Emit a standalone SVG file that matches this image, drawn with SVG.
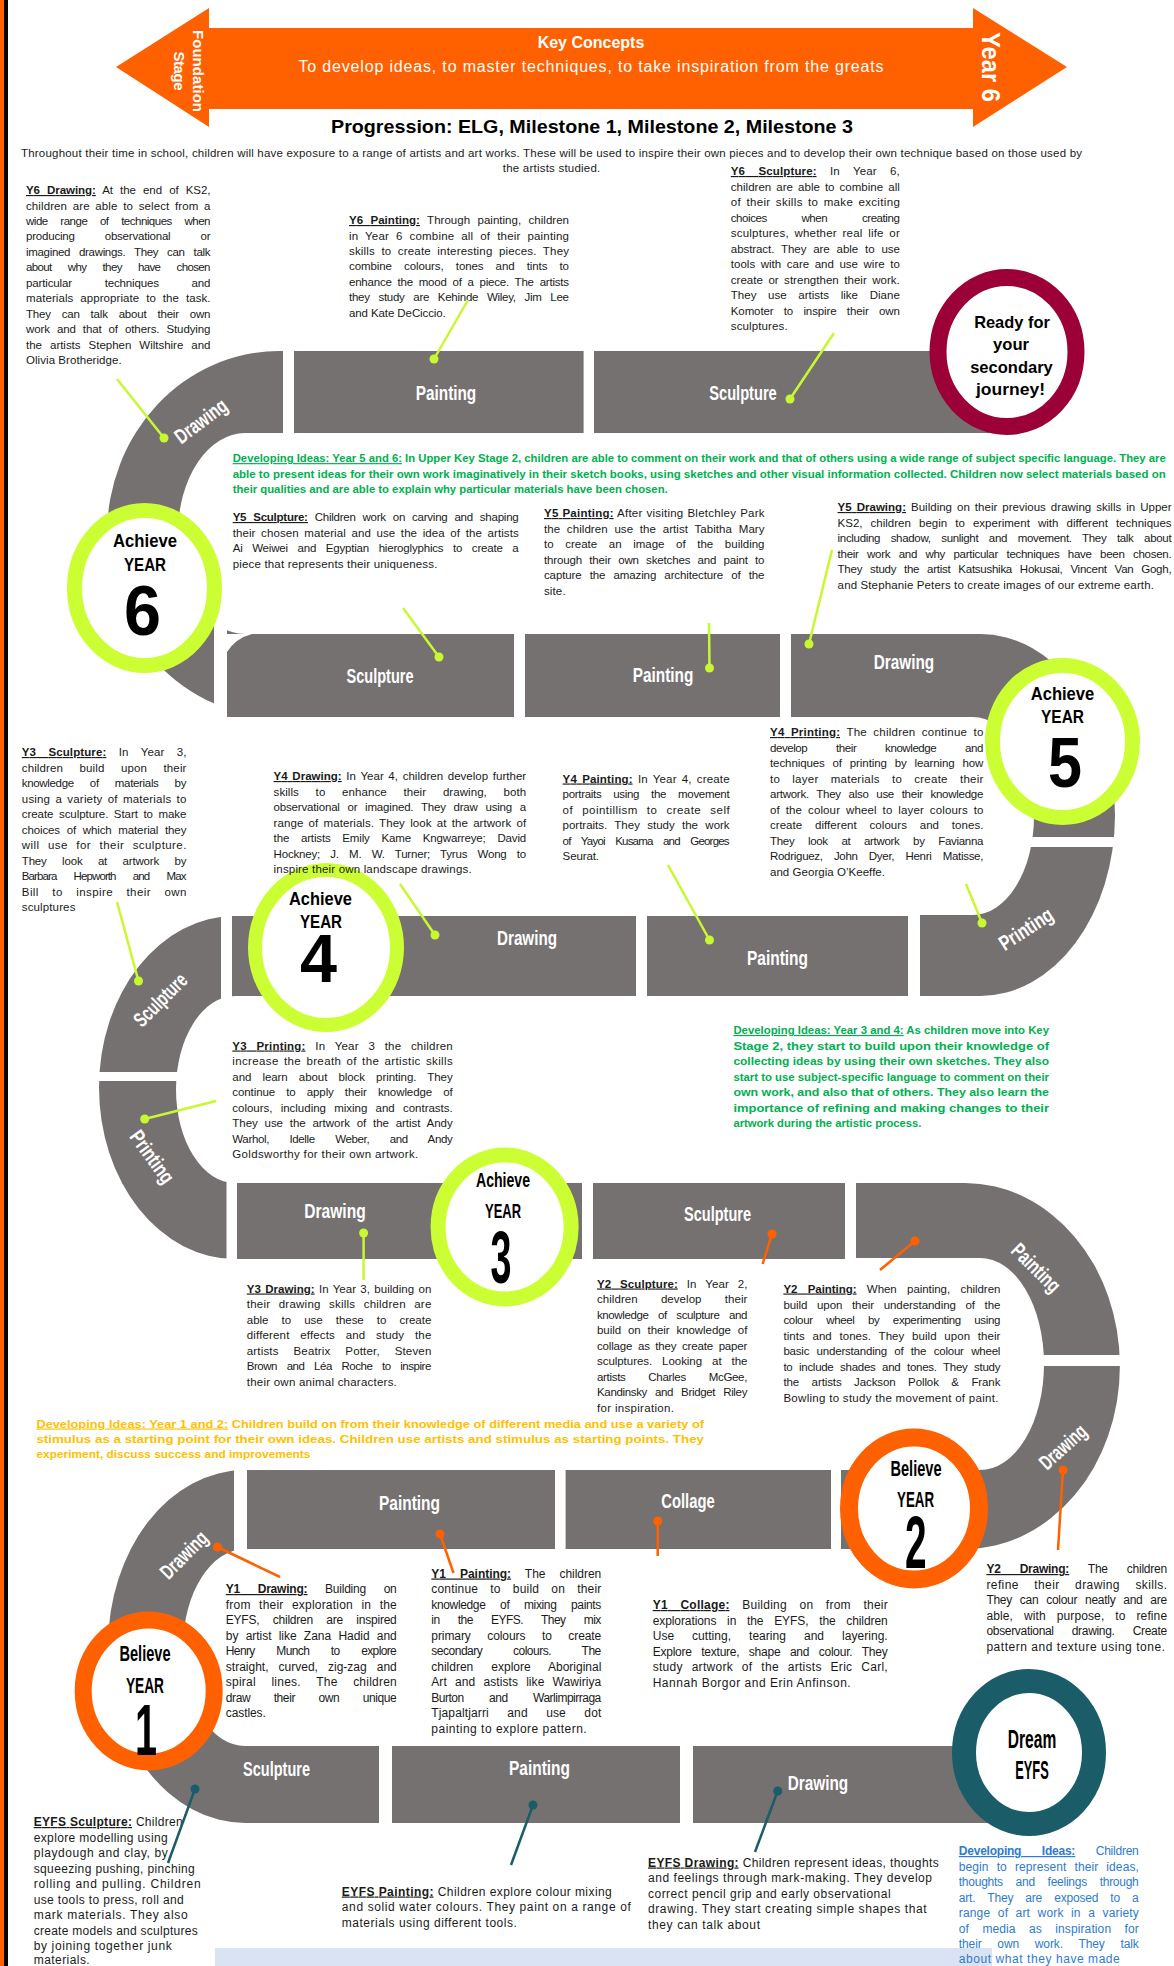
<svg xmlns="http://www.w3.org/2000/svg" width="1174" height="1966" viewBox="0 0 1174 1966">
<style>
text{font-family:"Liberation Sans",Arial,sans-serif}
.t{font-size:11.5px;fill:#1a1a1a}
.s{font-size:12px;fill:#1a1a1a}
.h{font-weight:bold;text-decoration:underline}
.u{text-decoration:underline}
.g{font-size:11.5px;font-weight:bold;fill:#00B050}
.y{font-size:11.5px;font-weight:bold;fill:#FFC000}
.bl{font-size:12px;fill:#2E7BCF}
.road{fill:#767171}
.gap{fill:#fff}
.lbl{font-size:21px;font-weight:bold;fill:#fff;text-anchor:middle}
.cb{font-weight:bold;fill:#000;text-anchor:middle}
.lime{stroke:#C8F830;stroke-width:2.5;fill:none}
.org{stroke:#FF6000;stroke-width:2.5;fill:none}
.teal{stroke:#1A5C68;stroke-width:2.5;fill:none}
.dl{fill:#C8F830}.do{fill:#FF6000}.dt{fill:#1A5C68}
</style>
<rect width="1174" height="1966" fill="#fff"/>
<g id="page-edge">
<rect x="0" y="0" width="4" height="1966" fill="#FF6000"/>
<rect x="4" y="0" width="4" height="1966" fill="#000"/>
</g>

<g id="banner">
<polygon points="116,67 209,8 209,28 973,28 973,8 1067,67 973,127 973,109 209,109 209,127" fill="#FF6000"/>
<text x="591" y="48" font-size="16" font-weight="bold" fill="#fff" text-anchor="middle">Key Concepts</text>
<text x="591" y="72" font-size="16" fill="#fff" text-anchor="middle" textLength="585">To develop ideas, to master techniques, to take inspiration from the greats</text>
<text transform="translate(193,71) rotate(90)" font-size="15" font-weight="bold" fill="#fff" text-anchor="middle" textLength="82">Foundation</text>
<text transform="translate(174,71) rotate(90)" font-size="15" font-weight="bold" fill="#fff" text-anchor="middle" textLength="39">Stage</text>
<text transform="translate(982,67) rotate(90)" font-size="26" font-weight="bold" fill="#fff" text-anchor="middle" textLength="70" lengthAdjust="spacingAndGlyphs">Year 6</text>
</g>

<g id="title">
<text x="592" y="133" font-size="19" font-weight="bold" fill="#000" text-anchor="middle" textLength="522" lengthAdjust="spacingAndGlyphs">Progression: ELG, Milestone 1, Milestone 2, Milestone 3</text>
</g>
<g id="intro">
<text class="t" x="551.5" y="157" text-anchor="middle" textLength="1061">Throughout their time in school, children will have exposure to a range of artists and art works. These will be used to inspire their own pieces and to develop their own technique based on those used by</text>
<text class="t" x="551.5" y="172" text-anchor="middle" textLength="97.5">the artists studied.</text>
</g>

<g id="road">
<path class="road" d="M300,351 L279,351 A172,183 0 0 0 279,717 L300,717 L300,634 L245,634 A67,100.5 0 0 1 245,433 L300,433 Z"/>
<path class="road" d="M791,634 L980,634 A135,181 0 0 1 980,996 L920,996 L920,915 L973,915 A61,99 0 0 0 973,717 L791,717 Z"/>
<path class="road" d="M245,916 L235,916 A136,171.5 0 0 0 235,1259 L245,1259 L245,1183 L235,1183 A59,93.5 0 0 1 235,996 L245,996 Z"/>
<path class="road" d="M856,1183 L965,1183 A155,183 0 0 1 965,1549 L841,1549 L841,1470 L980,1470 A64,106 0 0 0 980,1258 L856,1258 Z"/>
<path class="road" d="M250,1470 L245,1470 A137,176.5 0 0 0 245,1823 L379,1823 L379,1746 L245,1746 A62,98.5 0 0 1 245,1549 L250,1549 Z"/>
<rect class="gap" x="283" y="345" width="11" height="95"/>
<rect class="gap" x="214" y="600" width="13" height="122"/>
<rect class="gap" x="1020" y="837" width="105" height="10"/>
<rect class="gap" x="221" y="910" width="11" height="90"/>
<rect class="gap" x="90" y="1072" width="100" height="9"/>
<rect class="gap" x="226.5" y="1178" width="10.5" height="87"/>
<rect class="gap" x="1030" y="1355" width="100" height="11"/>
<rect class="gap" x="234" y="1465" width="13" height="90"/>
</g>
<g id="seg-y6-painting"><rect class="road" x="294" y="351" width="289.6" height="82"/><text class="lbl" x="446" y="400" textLength="60.5" lengthAdjust="spacingAndGlyphs">Painting</text></g>
<g id="seg-y6-sculpture"><rect class="road" x="594" y="351" width="406" height="82"/><text class="lbl" x="743" y="400" textLength="67.5" lengthAdjust="spacingAndGlyphs">Sculpture</text></g>
<g id="seg-y6-drawing"><text class="lbl" transform="translate(201,421) rotate(-37)" x="0" y="7" textLength="60" lengthAdjust="spacingAndGlyphs">Drawing</text></g>
<g id="seg-y5-sculpture"><rect class="road" x="227" y="634" width="287" height="83"/><path class="gap" d="M227,634 L252,634 Q236,638 227,652 Z"/><text class="lbl" x="380" y="683" textLength="67" lengthAdjust="spacingAndGlyphs">Sculpture</text></g>
<g id="seg-y5-painting"><rect class="road" x="525" y="634" width="255" height="83"/><text class="lbl" x="663" y="682" textLength="60.6" lengthAdjust="spacingAndGlyphs">Painting</text></g>
<g id="seg-y5-drawing"><text class="lbl" x="904" y="669" textLength="60.4" lengthAdjust="spacingAndGlyphs">Drawing</text></g>
<g id="seg-y4-printing"><text class="lbl" transform="translate(1026,929) rotate(-33)" x="0" y="7" textLength="60" lengthAdjust="spacingAndGlyphs">Printing</text></g>
<g id="seg-y4-painting"><rect class="road" x="647" y="916" width="261" height="80"/><text class="lbl" x="777.5" y="965" textLength="61" lengthAdjust="spacingAndGlyphs">Painting</text></g>
<g id="seg-y4-drawing"><rect class="road" x="232" y="916" width="404" height="80"/><text class="lbl" x="527" y="945" textLength="60" lengthAdjust="spacingAndGlyphs">Drawing</text></g>
<g id="seg-y3-sculpture"><text class="lbl" transform="translate(160.5,1000) rotate(-45)" x="0" y="7" textLength="66" lengthAdjust="spacingAndGlyphs">Sculpture</text></g>
<g id="seg-y3-printing"><text class="lbl" transform="translate(152,1157) rotate(54)" x="0" y="7" textLength="60" lengthAdjust="spacingAndGlyphs">Printing</text></g>
<g id="seg-y3-drawing"><rect class="road" x="237" y="1183" width="345" height="76"/><text class="lbl" x="335" y="1218" textLength="61.5" lengthAdjust="spacingAndGlyphs">Drawing</text></g>
<g id="seg-y2-sculpture"><rect class="road" x="593" y="1183" width="252" height="76"/><text class="lbl" x="717.5" y="1221" textLength="67" lengthAdjust="spacingAndGlyphs">Sculpture</text></g>
<g id="seg-y2-painting"><text class="lbl" transform="translate(1036,1268) rotate(45)" x="0" y="7" textLength="60" lengthAdjust="spacingAndGlyphs">Painting</text></g>
<g id="seg-y2-drawing"><text class="lbl" transform="translate(1063,1447) rotate(-42)" x="0" y="7" textLength="56" lengthAdjust="spacingAndGlyphs">Drawing</text></g>
<g id="seg-y1-collage"><rect class="road" x="565.6" y="1470" width="265.4" height="79"/><text class="lbl" x="688" y="1508" textLength="53.5" lengthAdjust="spacingAndGlyphs">Collage</text></g>
<g id="seg-y1-painting"><rect class="road" x="247" y="1470" width="308" height="79"/><text class="lbl" x="409.5" y="1510" textLength="61" lengthAdjust="spacingAndGlyphs">Painting</text></g>
<g id="seg-y1-drawing"><text class="lbl" transform="translate(184,1555) rotate(-45)" x="0" y="7" textLength="58" lengthAdjust="spacingAndGlyphs">Drawing</text></g>
<g id="seg-eyfs-sculpture"><text class="lbl" x="276.5" y="1776" textLength="67" lengthAdjust="spacingAndGlyphs">Sculpture</text></g>
<g id="seg-eyfs-painting"><rect class="road" x="392" y="1746" width="288" height="77"/><text class="lbl" x="539.5" y="1775" textLength="61" lengthAdjust="spacingAndGlyphs">Painting</text></g>
<g id="seg-eyfs-drawing"><rect class="road" x="693" y="1746" width="307" height="77"/><text class="lbl" x="818" y="1790" textLength="60.4" lengthAdjust="spacingAndGlyphs">Drawing</text></g>

<g id="badge-ready"><ellipse cx="1007" cy="352" rx="69" ry="74.5" fill="#fff" stroke="#9B0036" stroke-width="17"/>
<text class="cb" font-size="17" x="1012" y="328" textLength="75.7" lengthAdjust="spacingAndGlyphs">Ready for</text>
<text class="cb" font-size="17" x="1011" y="350" textLength="36" lengthAdjust="spacingAndGlyphs">your</text>
<text class="cb" font-size="17" x="1011.5" y="373" textLength="82.6" lengthAdjust="spacingAndGlyphs">secondary</text>
<text class="cb" font-size="17" x="1010.5" y="395" textLength="69" lengthAdjust="spacingAndGlyphs">journey!</text></g>
<g id="badge-achieve-6"><ellipse cx="144.5" cy="588" rx="70" ry="77.5" fill="#fff" stroke="#CCFF33" stroke-width="15"/>
<text class="cb" font-size="18" x="145" y="547" textLength="64" lengthAdjust="spacingAndGlyphs">Achieve</text>
<text class="cb" font-size="18" x="145" y="571" textLength="42" lengthAdjust="spacingAndGlyphs">YEAR</text>
<text class="cb" font-size="70" x="142.5" y="635" textLength="37" lengthAdjust="spacingAndGlyphs">6</text></g>
<g id="badge-achieve-5"><ellipse cx="1062.5" cy="741.5" rx="70" ry="76" fill="#fff" stroke="#CCFF33" stroke-width="15"/>
<text class="cb" font-size="18" x="1062.5" y="700" textLength="63.6" lengthAdjust="spacingAndGlyphs">Achieve</text>
<text class="cb" font-size="18" x="1062.5" y="723" textLength="43" lengthAdjust="spacingAndGlyphs">YEAR</text>
<text class="cb" font-size="70" x="1065" y="787" textLength="34" lengthAdjust="spacingAndGlyphs">5</text></g>
<g id="badge-achieve-4"><ellipse cx="326" cy="947.5" rx="71" ry="77.5" fill="#fff" stroke="#CCFF33" stroke-width="14"/>
<text class="cb" font-size="18" x="320.5" y="905" textLength="63" lengthAdjust="spacingAndGlyphs">Achieve</text>
<text class="cb" font-size="18" x="321" y="928" textLength="42" lengthAdjust="spacingAndGlyphs">YEAR</text>
<text class="cb" font-size="68" x="318.5" y="982" textLength="37" lengthAdjust="spacingAndGlyphs">4</text></g>
<g id="badge-achieve-3"><ellipse cx="504.6" cy="1227" rx="66.5" ry="72" fill="#fff" stroke="#CCFF33" stroke-width="15"/>
<text class="cb" font-size="21" x="503" y="1187" textLength="54" lengthAdjust="spacingAndGlyphs">Achieve</text>
<text class="cb" font-size="21" x="503" y="1218" textLength="36" lengthAdjust="spacingAndGlyphs">YEAR</text>
<text class="cb" font-size="74" x="501" y="1283" textLength="21" lengthAdjust="spacingAndGlyphs">3</text></g>
<g id="badge-believe-2"><ellipse cx="914" cy="1508.5" rx="65" ry="71" fill="#fff" stroke="#FF6000" stroke-width="18"/>
<text class="cb" font-size="22" x="916" y="1476" textLength="51" lengthAdjust="spacingAndGlyphs">Believe</text>
<text class="cb" font-size="22" x="915.5" y="1507" textLength="37" lengthAdjust="spacingAndGlyphs">YEAR</text>
<text class="cb" font-size="74" x="915.8" y="1568" textLength="21.6" lengthAdjust="spacingAndGlyphs">2</text></g>
<g id="badge-believe-1"><ellipse cx="148.7" cy="1691" rx="65.5" ry="71" fill="#fff" stroke="#FF6000" stroke-width="17"/>
<text class="cb" font-size="22" x="145" y="1660.7" textLength="51" lengthAdjust="spacingAndGlyphs">Believe</text>
<text class="cb" font-size="22" x="145" y="1692.7" textLength="38" lengthAdjust="spacingAndGlyphs">YEAR</text>
<text class="cb" font-size="72" x="146" y="1755" textLength="22" lengthAdjust="spacingAndGlyphs">1</text></g>
<g id="badge-dream"><ellipse cx="1029" cy="1752.5" rx="65" ry="71.5" fill="#fff" stroke="#1A5C68" stroke-width="24"/>
<text class="cb" font-size="25" x="1032" y="1748" textLength="48.5" lengthAdjust="spacingAndGlyphs">Dream</text>
<text class="cb" font-size="25" x="1032" y="1779" textLength="33.4" lengthAdjust="spacingAndGlyphs">EYFS</text></g>

<g id="footer-band"><rect x="215" y="1948" width="777" height="18" fill="#DAE3F3"/></g>

<g id="y6-drawing">
<text class="t" x="26" y="194" textLength="184.5" word-spacing="4"><tspan class="h">Y6 Drawing:</tspan> At the end of KS2,</text>
<text class="t" x="26" y="209.5" textLength="184.5" word-spacing="2.4">children are able to select from a</text>
<text class="t" x="26" y="225" textLength="184.5" word-spacing="9.9">wide range of techniques when</text>
<text class="t" x="26" y="240.4" textLength="184.5" word-spacing="27">producing observational or</text>
<text class="t" x="26" y="255.8" textLength="184.5" word-spacing="6">imagined drawings. They can talk</text>
<text class="t" x="26" y="271.3" textLength="184.5" word-spacing="13.6">about why they have chosen</text>
<text class="t" x="26" y="286.7" textLength="184.5" word-spacing="29.7">particular techniques and</text>
<text class="t" x="26" y="302.2" textLength="184.5" word-spacing="3.6">materials appropriate to the task.</text>
<text class="t" x="26" y="317.6" textLength="184.5" word-spacing="7.9">They can talk about their own</text>
<text class="t" x="26" y="333" textLength="184.5" word-spacing="3.9">work and that of others. Studying</text>
<text class="t" x="26" y="348.5" textLength="184.5" word-spacing="4.9">the artists Stephen Wiltshire and</text>
<text class="t" x="26" y="364" textLength="95.7">Olivia Brotheridge.</text>
</g>
<g id="y6-painting">
<text class="t" x="349" y="224" textLength="220" word-spacing="4.2"><tspan class="h">Y6 Painting:</tspan> Through painting, children</text>
<text class="t" x="349" y="239.5" textLength="220" word-spacing="3.6">in Year 6 combine all of their painting</text>
<text class="t" x="349" y="255" textLength="220" word-spacing="3">skills to create interesting pieces. They</text>
<text class="t" x="349" y="270.4" textLength="220" word-spacing="9">combine colours, tones and tints to</text>
<text class="t" x="349" y="285.8" textLength="220" word-spacing="2.9">enhance the mood of a piece. The artists</text>
<text class="t" x="349" y="301.3" textLength="220" word-spacing="5.8">they study are Kehinde Wiley, Jim Lee</text>
<text class="t" x="349" y="316.7" textLength="96.8">and Kate DeCiccio.</text>
</g>
<g id="y6-sculpture">
<text class="t" x="730.8" y="175" textLength="169" word-spacing="10"><tspan class="h">Y6 Sculpture:</tspan> In Year 6,</text>
<text class="t" x="730.8" y="190.5" textLength="169" word-spacing="1.8">children are able to combine all</text>
<text class="t" x="730.8" y="206" textLength="169" word-spacing="1.8">of their skills to make exciting</text>
<text class="t" x="730.8" y="221.5" textLength="169" word-spacing="32">choices when creating</text>
<text class="t" x="730.8" y="237" textLength="169" word-spacing="2.2">sculptures, whether real life or</text>
<text class="t" x="730.8" y="252.5" textLength="169" word-spacing="3.8">abstract. They are able to use</text>
<text class="t" x="730.8" y="268" textLength="169" word-spacing="2.3">tools with care and use wire to</text>
<text class="t" x="730.8" y="283.5" textLength="169" word-spacing="2.2">create or strengthen their work.</text>
<text class="t" x="730.8" y="299" textLength="169" word-spacing="8.5">They use artists like Diane</text>
<text class="t" x="730.8" y="314.5" textLength="169" word-spacing="7.2">Komoter to inspire their own</text>
<text class="t" x="730.8" y="330" textLength="56.8">sculptures.</text>
</g>
<g id="ideas-y5-y6">
<text class="g" transform="translate(232.7,462) scale(1,1.21)" x="0" y="0" font-size="9.5" style="font-size:9.5px" textLength="933" lengthAdjust="spacingAndGlyphs"><tspan class="u">Developing Ideas: Year 5 and 6:</tspan> In Upper Key Stage 2, children are able to comment on their work and that of others using a wide range of subject specific language. They are</text>
<text class="g" transform="translate(232.7,477.5) scale(1,1.21)" x="0" y="0" style="font-size:9.5px" textLength="933" lengthAdjust="spacingAndGlyphs">able to present ideas for their own work imaginatively in their sketch books, using sketches and other visual information collected. Children now select materials based on</text>
<text class="g" x="232.7" y="493" textLength="435" lengthAdjust="spacingAndGlyphs">their qualities and are able to explain why particular materials have been chosen.</text>
</g>
<g id="y5-sculpture">
<text class="t" x="232.7" y="521" textLength="286" word-spacing="4"><tspan class="h">Y5 Sculpture:</tspan> Children work on carving and shaping</text>
<text class="t" x="232.7" y="536.5" textLength="286" word-spacing="2.3">their chosen material and use the idea of the artists</text>
<text class="t" x="232.7" y="552" textLength="286" word-spacing="6.6">Ai Weiwei and Egyptian hieroglyphics to create a</text>
<text class="t" x="232.7" y="567.5" textLength="204.7">piece that represents their uniqueness.</text>
</g>
<g id="y5-painting">
<text class="t" x="544" y="517" textLength="220.5" word-spacing="0.5"><tspan class="h">Y5 Painting:</tspan> After visiting Bletchley Park</text>
<text class="t" x="544" y="532.5" textLength="220.5" word-spacing="3.4">the children use the artist Tabitha Mary</text>
<text class="t" x="544" y="548" textLength="220.5" word-spacing="8.4">to create an image of the building</text>
<text class="t" x="544" y="563.5" textLength="220.5" word-spacing="4.2">through their own sketches and paint to</text>
<text class="t" x="544" y="579" textLength="220.5" word-spacing="5.1">capture the amazing architecture of the</text>
<text class="t" x="544" y="594.5" textLength="21.6">site.</text>
</g>
<g id="y5-drawing">
<text class="t" x="837.6" y="511" textLength="334" word-spacing="1.8"><tspan class="h">Y5 Drawing:</tspan> Building on their previous drawing skills in Upper</text>
<text class="t" x="837.6" y="526.5" textLength="334" word-spacing="4.9">KS2, children begin to experiment with different techniques</text>
<text class="t" x="837.6" y="542" textLength="334" word-spacing="7.7">including shadow, sunlight and movement. They talk about</text>
<text class="t" x="837.6" y="557.5" textLength="334" word-spacing="5.5">their work and why particular techniques have been chosen.</text>
<text class="t" x="837.6" y="573" textLength="334" word-spacing="4.9">They study the artist Katsushika Hokusai, Vincent Van Gogh,</text>
<text class="t" x="837.6" y="588.5" textLength="316.3">and Stephanie Peters to create images of our extreme earth.</text>
</g>
<g id="y4-printing">
<text class="t" x="770" y="736" textLength="213.4" word-spacing="3"><tspan class="h">Y4 Printing:</tspan> The children continue to</text>
<text class="t" x="770" y="751.5" textLength="213.4" word-spacing="26">develop their knowledge and</text>
<text class="t" x="770" y="767" textLength="213.4" word-spacing="4.7">techniques of printing by learning how</text>
<text class="t" x="770" y="782.5" textLength="213.4" word-spacing="8.7">to layer materials to create their</text>
<text class="t" x="770" y="798" textLength="213.4" word-spacing="4.7">artwork. They also use their knowledge</text>
<text class="t" x="770" y="813.5" textLength="213.4" word-spacing="2.6">of the colour wheel to layer colours to</text>
<text class="t" x="770" y="829" textLength="213.4" word-spacing="9.6">create different colours and tones.</text>
<text class="t" x="770" y="844.5" textLength="213.4" word-spacing="10.7">They look at artwork by Favianna</text>
<text class="t" x="770" y="860" textLength="213.4" word-spacing="8.3">Rodriguez, John Dyer, Henri Matisse,</text>
<text class="t" x="770" y="875.5" textLength="115">and Georgia O’Keeffe.</text>
</g>
<g id="y3-sculpture">
<text class="t" x="21.8" y="756" textLength="164.6" word-spacing="9"><tspan class="h">Y3 Sculpture:</tspan> In Year 3,</text>
<text class="t" x="21.8" y="771.5" textLength="164.6" word-spacing="13.2">children build upon their</text>
<text class="t" x="21.8" y="787" textLength="164.6" word-spacing="13.2">knowledge of materials by</text>
<text class="t" x="21.8" y="802.5" textLength="164.6" word-spacing="1.9">using a variety of materials to</text>
<text class="t" x="21.8" y="818" textLength="164.6" word-spacing="2.4">create sculpture. Start to make</text>
<text class="t" x="21.8" y="833.5" textLength="164.6" word-spacing="3.6">choices of which material they</text>
<text class="t" x="21.8" y="849" textLength="164.6" word-spacing="4.9">will use for their sculpture.</text>
<text class="t" x="21.8" y="864.5" textLength="164.6" word-spacing="12.4">They look at artwork by</text>
<text class="t" x="21.8" y="880" textLength="164.6" word-spacing="14.9">Barbara Hepworth and Max</text>
<text class="t" x="21.8" y="895.5" textLength="164.6" word-spacing="9.9">Bill to inspire their own</text>
<text class="t" x="21.8" y="911" textLength="53.6">sculptures</text>
</g>
<g id="y4-drawing">
<text class="t" x="273.6" y="780" textLength="252.6" word-spacing="1.4"><tspan class="h">Y4 Drawing:</tspan> In Year 4, children develop further</text>
<text class="t" x="273.6" y="795.5" textLength="252.6" word-spacing="13.5">skills to enhance their drawing, both</text>
<text class="t" x="273.6" y="811" textLength="252.6" word-spacing="4.7">observational or imagined. They draw using a</text>
<text class="t" x="273.6" y="826.5" textLength="252.6" word-spacing="2">range of materials. They look at the artwork of</text>
<text class="t" x="273.6" y="842" textLength="252.6" word-spacing="8.8">the artists Emily Kame Kngwarreye; David</text>
<text class="t" x="273.6" y="857.5" textLength="252.6" word-spacing="7.2">Hockney; J. M. W. Turner; Tyrus Wong to</text>
<text class="t" x="273.6" y="873" textLength="198">inspire their own landscape drawings.</text>
</g>
<g id="y4-painting">
<text class="t" x="562.6" y="782.5" textLength="167" word-spacing="1.8"><tspan class="h">Y4 Painting:</tspan> In Year 4, create</text>
<text class="t" x="562.6" y="798" textLength="167" word-spacing="9">portraits using the movement</text>
<text class="t" x="562.6" y="813.5" textLength="167" word-spacing="5.5">of pointillism to create self</text>
<text class="t" x="562.6" y="829" textLength="167" word-spacing="4.2">portraits. They study the work</text>
<text class="t" x="562.6" y="844.5" textLength="167" word-spacing="8">of Yayoi Kusama and Georges</text>
<text class="t" x="562.6" y="860" textLength="36.4">Seurat.</text>
</g>
<g id="y3-printing">
<text class="t" x="232.3" y="1049.5" textLength="220.4" word-spacing="6.2"><tspan class="h">Y3 Printing:</tspan> In Year 3 the children</text>
<text class="t" x="232.3" y="1065" textLength="220.4" word-spacing="1.7">increase the breath of the artistic skills</text>
<text class="t" x="232.3" y="1080.5" textLength="220.4" word-spacing="8">and learn about block printing. They</text>
<text class="t" x="232.3" y="1096" textLength="220.4" word-spacing="8">continue to apply their knowledge of</text>
<text class="t" x="232.3" y="1111.5" textLength="220.4" word-spacing="5.1">colours, including mixing and contrasts.</text>
<text class="t" x="232.3" y="1127" textLength="220.4" word-spacing="3.6">They use the artwork of the artist Andy</text>
<text class="t" x="232.3" y="1142.5" textLength="220.4" word-spacing="17.6">Warhol, Idelle Weber, and Andy</text>
<text class="t" x="232.3" y="1158" textLength="186">Goldsworthy for their own artwork.</text>
</g>
<g id="ideas-y3-y4">
<text class="g" x="733.4" y="1034" textLength="315.6" lengthAdjust="spacingAndGlyphs"><tspan class="u">Developing Ideas: Year 3 and 4:</tspan> As children move into Key</text>
<text class="g" x="733.4" y="1049.5" textLength="315.6" lengthAdjust="spacingAndGlyphs">Stage 2, they start to build upon their knowledge of</text>
<text class="g" x="733.4" y="1065" textLength="315.6" lengthAdjust="spacingAndGlyphs">collecting ideas by using their own sketches. They also</text>
<text class="g" x="733.4" y="1080.5" textLength="315.6" lengthAdjust="spacingAndGlyphs">start to use subject-specific language to comment on their</text>
<text class="g" x="733.4" y="1096" textLength="315.6" lengthAdjust="spacingAndGlyphs">own work, and also that of others. They also learn the</text>
<text class="g" x="733.4" y="1111.5" textLength="315.6" lengthAdjust="spacingAndGlyphs">importance of refining and making changes to their</text>
<text class="g" x="733.4" y="1127" textLength="188" lengthAdjust="spacingAndGlyphs">artwork during the artistic process.</text>
</g>
<g id="y3-drawing">
<text class="t" x="246.8" y="1292.5" textLength="184.5" word-spacing="1.1"><tspan class="h">Y3 Drawing:</tspan> In Year 3, building on</text>
<text class="t" x="246.8" y="1308" textLength="184.5" word-spacing="4.9">their drawing skills children are</text>
<text class="t" x="246.8" y="1323.5" textLength="184.5" word-spacing="9.9">able to use these to create</text>
<text class="t" x="246.8" y="1339" textLength="184.5" word-spacing="7.4">different effects and study the</text>
<text class="t" x="246.8" y="1354.5" textLength="184.5" word-spacing="11.5">artists Beatrix Potter, Steven</text>
<text class="t" x="246.8" y="1370" textLength="184.5" word-spacing="6.9">Brown and Léa Roche to inspire</text>
<text class="t" x="246.8" y="1385.5" textLength="150">their own animal characters.</text>
</g>
<g id="y2-sculpture">
<text class="t" x="597" y="1287.5" textLength="150.4" word-spacing="5.6"><tspan class="h">Y2 Sculpture:</tspan> In Year 2,</text>
<text class="t" x="597" y="1303" textLength="150.4" word-spacing="20">children develop their</text>
<text class="t" x="597" y="1318.5" textLength="150.4" word-spacing="6.8">knowledge of sculpture and</text>
<text class="t" x="597" y="1334" textLength="150.4" word-spacing="3.8">build on their knowledge of</text>
<text class="t" x="597" y="1349.5" textLength="150.4" word-spacing="2.6">collage as they create paper</text>
<text class="t" x="597" y="1365" textLength="150.4" word-spacing="6.8">sculptures. Looking at the</text>
<text class="t" x="597" y="1380.5" textLength="150.4" word-spacing="20">artists Charles McGee,</text>
<text class="t" x="597" y="1396" textLength="150.4" word-spacing="5.1">Kandinsky and Bridget Riley</text>
<text class="t" x="597" y="1411.5" textLength="77">for inspiration.</text>
</g>
<g id="y2-painting">
<text class="t" x="783.4" y="1292.5" textLength="217" word-spacing="7.2"><tspan class="h">Y2 Painting:</tspan> When painting, children</text>
<text class="t" x="783.4" y="1308.5" textLength="217" word-spacing="6.4">build upon their understanding of the</text>
<text class="t" x="783.4" y="1324" textLength="217" word-spacing="10.5">colour wheel by experimenting using</text>
<text class="t" x="783.4" y="1339.5" textLength="217" word-spacing="4.5">tints and tones. They build upon their</text>
<text class="t" x="783.4" y="1355" textLength="217" word-spacing="4.4">basic understanding of the colour wheel</text>
<text class="t" x="783.4" y="1370.5" textLength="217" word-spacing="3.7">to include shades and tones. They study</text>
<text class="t" x="783.4" y="1386" textLength="217" word-spacing="9.4">the artists Jackson Pollok &amp; Frank</text>
<text class="t" x="783.4" y="1401.5" textLength="215">Bowling to study the movement of paint.</text>
</g>
<g id="ideas-y1-y2">
<text class="y" x="36.4" y="1427.5" textLength="667.6" lengthAdjust="spacingAndGlyphs"><tspan class="u">Developing Ideas: Year 1 and 2:</tspan> Children build on from their knowledge of different media and use a variety of</text>
<text class="y" x="36.4" y="1442.5" textLength="667.6" lengthAdjust="spacingAndGlyphs">stimulus as a starting point for their own ideas. Children use artists and stimulus as starting points. They</text>
<text class="y" x="36.4" y="1458" textLength="274" lengthAdjust="spacingAndGlyphs">experiment, discuss success and improvements</text>
</g>
<g id="y2-drawing">
<text class="s" x="986.4" y="1573" textLength="180.7" word-spacing="16"><tspan class="h">Y2 Drawing:</tspan> The children</text>
<text class="s" x="986.4" y="1588.5" textLength="180.7" word-spacing="11.7">refine their drawing skills.</text>
<text class="s" x="986.4" y="1604" textLength="180.7" word-spacing="4.9">They can colour neatly and are</text>
<text class="s" x="986.4" y="1619.5" textLength="180.7" word-spacing="7.5">able, with purpose, to refine</text>
<text class="s" x="986.4" y="1635" textLength="180.7" word-spacing="15">observational drawing. Create</text>
<text class="s" x="986.4" y="1650.5" textLength="178.6">pattern and texture using tone.</text>
</g>
<g id="y1-drawing">
<text class="s" x="225.8" y="1593" textLength="171" word-spacing="14.5"><tspan class="h">Y1 Drawing:</tspan> Building on</text>
<text class="s" x="225.8" y="1608.5" textLength="171" word-spacing="5">from their exploration in the</text>
<text class="s" x="225.8" y="1624" textLength="171" word-spacing="10.2">EYFS, children are inspired</text>
<text class="s" x="225.8" y="1639.5" textLength="171" word-spacing="4">by artist like Zana Hadid and</text>
<text class="s" x="225.8" y="1655" textLength="171" word-spacing="18.9">Henry Munch to explore</text>
<text class="s" x="225.8" y="1670.5" textLength="171" word-spacing="6.7">straight, curved, zig-zag and</text>
<text class="s" x="225.8" y="1686" textLength="171" word-spacing="12">spiral lines. The children</text>
<text class="s" x="225.8" y="1701.5" textLength="171" word-spacing="20.6">draw their own unique</text>
<text class="s" x="225.8" y="1717" textLength="40">castles.</text>
</g>
<g id="y1-painting">
<text class="s" x="431.3" y="1577.5" textLength="170" word-spacing="10.7"><tspan class="h">Y1 Painting:</tspan> The children</text>
<text class="s" x="431.3" y="1593" textLength="170" word-spacing="8.7">continue to build on their</text>
<text class="s" x="431.3" y="1608.5" textLength="170" word-spacing="11.6">knowledge of mixing paints</text>
<text class="s" x="431.3" y="1624" textLength="170" word-spacing="15.2">in the EYFS. They mix</text>
<text class="s" x="431.3" y="1639.5" textLength="170" word-spacing="13.3">primary colours to create</text>
<text class="s" x="431.3" y="1655" textLength="170" word-spacing="27.8">secondary colours. The</text>
<text class="s" x="431.3" y="1670.5" textLength="170" word-spacing="14.8">children explore Aboriginal</text>
<text class="s" x="431.3" y="1686" textLength="170" word-spacing="4.8">Art and astists like Wawiriya</text>
<text class="s" x="431.3" y="1701.5" textLength="170" word-spacing="22.6">Burton and Warlimpirraga</text>
<text class="s" x="431.3" y="1717" textLength="170" word-spacing="15">Tjapaltjarri and use dot</text>
<text class="s" x="431.3" y="1732.5" textLength="155.4">painting to explore pattern.</text>
</g>
<g id="y1-collage">
<text class="s" x="652.7" y="1609" textLength="235" word-spacing="9"><tspan class="h">Y1 Collage:</tspan> Building on from their</text>
<text class="s" x="652.7" y="1624.5" textLength="235" word-spacing="7.5">explorations in the EYFS, the children</text>
<text class="s" x="652.7" y="1640" textLength="235" word-spacing="14.5">Use cutting, tearing and layering.</text>
<text class="s" x="652.7" y="1655.5" textLength="235" word-spacing="6.4">Explore texture, shape and colour. They</text>
<text class="s" x="652.7" y="1671" textLength="235" word-spacing="5.3">study artwork of the artists Eric Carl,</text>
<text class="s" x="652.7" y="1686.5" textLength="198">Hannah Borgor and Erin Anfinson.</text>
</g>
<g id="eyfs-sculpture">
<text class="s" x="33.7" y="1826" textLength="149"><tspan class="h">EYFS Sculpture:</tspan> Children</text>
<text class="s" x="33.7" y="1841.5" textLength="134">explore modelling using</text>
<text class="s" x="33.7" y="1857" textLength="134">playdough and clay, by</text>
<text class="s" x="33.7" y="1872.5" textLength="161">squeezing pushing, pinching</text>
<text class="s" x="33.7" y="1888" textLength="167">rolling and pulling. Children</text>
<text class="s" x="33.7" y="1903.5" textLength="150">use tools to press, roll and</text>
<text class="s" x="33.7" y="1919" textLength="154">mark materials. They also</text>
<text class="s" x="33.7" y="1934.5" textLength="164">create models and sculptures</text>
<text class="s" x="33.7" y="1950" textLength="138">by joining together junk</text>
<text class="s" x="33.7" y="1964" textLength="56">materials.</text>
</g>
<g id="eyfs-painting">
<text class="s" x="341.8" y="1895.5" textLength="270"><tspan class="h">EYFS Painting:</tspan> Children explore colour mixing</text>
<text class="s" x="341.8" y="1911" textLength="289">and solid water colours. They paint on a range of</text>
<text class="s" x="341.8" y="1926.5" textLength="175">materials using different tools.</text>
</g>
<g id="eyfs-drawing">
<text class="s" x="648" y="1866.5" textLength="290.7"><tspan class="h">EYFS Drawing:</tspan> Children represent ideas, thoughts</text>
<text class="s" x="648" y="1882" textLength="284">and feelings through mark-making. They develop</text>
<text class="s" x="648" y="1897.5" textLength="242.6">correct pencil grip and early observational</text>
<text class="s" x="648" y="1913" textLength="278.6">drawing. They start creating simple shapes that</text>
<text class="s" x="648" y="1928.5" textLength="112">they can talk about</text>
</g>
<g id="ideas-eyfs">
<text class="bl" x="958.8" y="1855" textLength="180" word-spacing="17.5"><tspan class="h">Developing Ideas:</tspan> Children</text>
<text class="bl" x="958.8" y="1870.5" textLength="180" word-spacing="4.7">begin to represent their ideas,</text>
<text class="bl" x="958.8" y="1886" textLength="180" word-spacing="9.7">thoughts and feelings through</text>
<text class="bl" x="958.8" y="1901.5" textLength="180" word-spacing="9">art. They are exposed to a</text>
<text class="bl" x="958.8" y="1917" textLength="180" word-spacing="4">range of art work in a variety</text>
<text class="bl" x="958.8" y="1932.5" textLength="180" word-spacing="9.9">of media as inspiration for</text>
<text class="bl" x="958.8" y="1948" textLength="180" word-spacing="12.5">their own work. They talk</text>
<text class="bl" x="958.8" y="1963" textLength="161">about what they have made</text>
</g>

<g id="connectors">
<line class="lime" x1="117" y1="379" x2="164" y2="438"/><circle class="dl" cx="164" cy="438" r="4.5"/>
<line class="lime" x1="468" y1="300" x2="434" y2="359"/><circle class="dl" cx="434" cy="359" r="4.5"/>
<line class="lime" x1="834" y1="333" x2="790" y2="399"/><circle class="dl" cx="790" cy="399" r="4.5"/>
<line class="lime" x1="403" y1="608" x2="439" y2="657"/><circle class="dl" cx="439" cy="657" r="4.5"/>
<line class="lime" x1="709" y1="623" x2="709.5" y2="668"/><circle class="dl" cx="709.5" cy="668" r="4.5"/>
<line class="lime" x1="832" y1="550" x2="809" y2="644"/><circle class="dl" cx="809" cy="644" r="4.5"/>
<line class="lime" x1="668" y1="865" x2="709.5" y2="940"/><circle class="dl" cx="709.5" cy="940" r="4.5"/>
<line class="lime" x1="966" y1="884" x2="982" y2="923"/><circle class="dl" cx="982" cy="923" r="4.5"/>
<line class="lime" x1="400" y1="884" x2="435" y2="935"/><circle class="dl" cx="435" cy="935" r="4.5"/>
<line class="lime" x1="117" y1="902" x2="138.5" y2="981"/><circle class="dl" cx="138.5" cy="981" r="4.5"/>
<line class="lime" x1="216" y1="1101" x2="144.7" y2="1119"/><circle class="dl" cx="144.7" cy="1119" r="4.5"/>
<line class="lime" x1="363.6" y1="1280" x2="363.6" y2="1233"/><circle class="dl" cx="363.6" cy="1233" r="4.5"/>
<line class="org" x1="762.6" y1="1264" x2="772" y2="1234"/><circle class="do" cx="772" cy="1234" r="4.5"/>
<line class="org" x1="880" y1="1270" x2="915" y2="1241"/><circle class="do" cx="915" cy="1241" r="4.5"/>
<line class="org" x1="1058" y1="1550" x2="1063" y2="1470"/><circle class="do" cx="1063" cy="1470" r="4.5"/>
<line class="org" x1="657.7" y1="1556" x2="657.7" y2="1521"/><circle class="do" cx="657.7" cy="1521" r="4.5"/>
<line class="org" x1="453.5" y1="1573" x2="440" y2="1534"/><circle class="do" cx="440" cy="1534" r="4.5"/>
<line class="org" x1="280" y1="1577" x2="217.4" y2="1547"/><circle class="do" cx="217.4" cy="1547" r="4.5"/>
<line class="teal" x1="168" y1="1863" x2="195" y2="1789"/><circle class="dt" cx="195" cy="1789" r="4.5"/>
<line class="teal" x1="511" y1="1865" x2="533" y2="1805"/><circle class="dt" cx="533" cy="1805" r="4.5"/>
<line class="teal" x1="755" y1="1852" x2="777.7" y2="1791"/><circle class="dt" cx="777.7" cy="1791" r="4.5"/>
</g>
</svg>
